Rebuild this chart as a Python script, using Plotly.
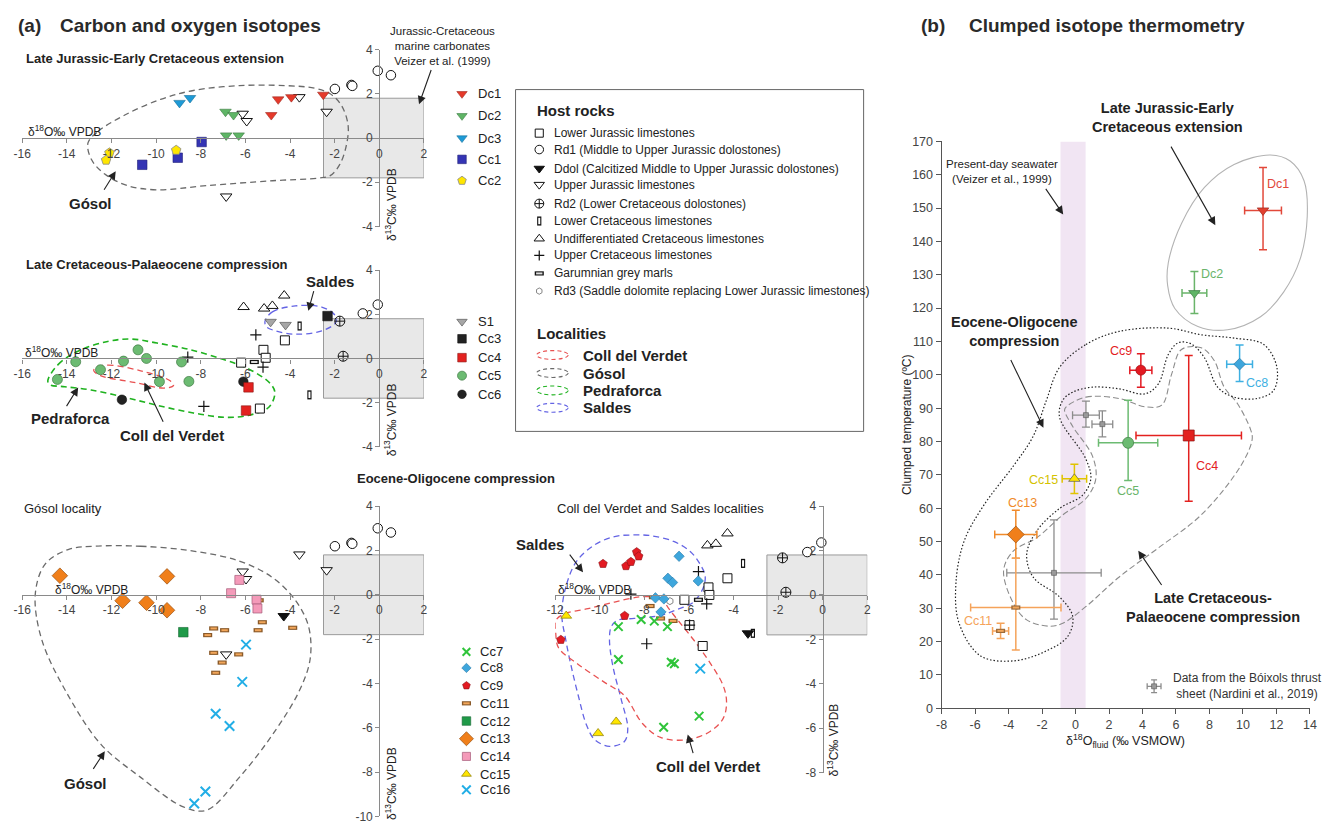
import plotly.graph_objects as go

W, H = 1333, 828
FONT = "Liberation Sans, Arial, Helvetica, sans-serif"
TXT = "#222222"
AX = "#8a8a8a"

# ================= DATA =================
# --- (a) Late Jurassic-Early Cretaceous extension ---
p1_dc1_x = [-4.53, -3.94, -4.84, -2.51]
p1_dc1_y = [1.75, 1.85, 1.04, 1.96]
p1_dc2_x = [-6.89, -6.53, -6.86, -6.30]
p1_dc2_y = [1.19, 1.04, 0.12, 0.12]
p1_dc3_x = [-8.95, -8.48]
p1_dc3_y = [1.59, 1.81]
p1_cc1_x = [-7.96, -9.03, -10.62]
p1_cc1_y = [-0.18, -0.89, -1.21]
p1_cc2_x = [-9.10, -12.09, -12.24]
p1_cc2_y = [-0.55, -0.67, -1.00]
p1_ujl_x = [-3.58, -2.36, -6.12, -5.94, -6.86]
p1_ujl_y = [1.85, 1.19, 1.10, 0.77, -2.64]
p1_rd1_x = [-1.99, -1.25, -1.21, -0.07, 0.52]
p1_rd1_y = [2.22, 2.40, 2.36, 3.04, 2.84]
p1_gosol_x = [-13.05, -12.6, -11.4, -9.8, -8.33, -6.27, -4.2, -2.88, -2.2, -1.7, -1.4, -1.47, -1.77,
              -2.2, -2.73, -4.79, -7.74, -9.96, -11.28, -12.3, -12.9]
p1_gosol_y = [-0.22, 0.30, 1.04, 1.75, 2.15, 2.37, 2.37, 2.25, 2.0, 1.48, 0.59, -0.3, -1.19,
              -1.7, -1.81, -1.93, -2.15, -2.34, -2.15, -1.63, -0.96]

# --- (a) Late Cretaceous-Palaeocene compression ---
p2_s1_x = [-4.87, -4.20]
p2_s1_y = [1.66, 1.52]
p2_cc3_x = [-2.32]
p2_cc3_y = [1.92]
p2_cc4_x = [-5.86, -5.97]
p2_cc4_y = [-1.31, -2.36]
p2_cc5_x = [-14.42, -13.60, -12.49, -11.46, -10.81, -10.43, -9.85, -8.86, -8.53]
p2_cc5_y = [-0.95, -0.15, -0.51, -0.12, 0.39, 0.00, -1.05, -0.16, -1.04]
p2_cc6_x = [-11.53, -6.09]
p2_cc6_y = [-1.87, -1.05]
p2_ucret_x = [-6.08, -5.16, -4.79, -4.26]
p2_ucret_y = [2.33, 2.26, 2.38, 2.85]
p2_lcl_x = [-3.57, -3.13]
p2_lcl_y = [1.47, -1.65]
p2_rd2_x = [-1.77, -1.62]
p2_rd2_y = [1.69, 0.10]
p2_rd1_x = [-0.74, -0.07]
p2_rd1_y = [2.04, 2.44]
p2_ljl_x = [-4.23, -5.19, -5.09, -6.19, -5.35]
p2_ljl_y = [0.82, 0.39, 0.03, -0.19, -2.27]
p2_ucl_x = [-5.53, -8.58, -5.21, -7.86]
p2_ucl_y = [1.07, 0.06, -0.39, -2.17]
p2_gm_x = [-5.60]
p2_gm_y = [-0.16]
p2_ped_x = [-14.85, -14.38, -13.50, -12.17, -11.14, -9.96, -8.48, -7.01, -5.97, -4.94, -4.68, -4.94,
            -5.83, -6.86, -8.33, -9.96, -11.43, -12.91, -14.09, -14.75]
p2_ped_y = [-1.01, -0.27, 0.33, 0.77, 0.88, 0.70, 0.40, -0.04, -0.42, -1.08, -1.53, -2.20,
            -2.57, -2.67, -2.47, -2.12, -1.75, -1.43, -1.28, -1.19]
p2_sal_x = [-5.12, -4.79, -3.76, -2.58, -1.99, -1.95, -2.58, -3.76, -4.65, -5.06]
p2_sal_y = [1.69, 2.11, 2.38, 2.33, 1.96, 1.63, 1.25, 1.10, 1.25, 1.44]
p2_cdv_x = [-12.73, -12.17, -10.69, -9.37, -9.22, -9.66, -10.99, -12.46, -12.79]
p2_cdv_y = [-0.42, -0.30, -0.56, -1.01, -1.23, -1.34, -1.08, -0.79, -0.56]

# --- (a) Eocene-Oligocene: Gósol locality ---
p3_rd1_x = [-1.99, -1.25, -1.21, -0.07, 0.52]
p3_rd1_y = [2.19, 2.34, 2.30, 3.00, 2.81]
p3_ujl_x = [-3.58, -2.36, -6.12, -5.97, -6.86]
p3_ujl_y = [1.82, 1.11, 1.05, 0.71, -2.69]
p3_ddol_x = [-4.28]
p3_ddol_y = [-0.96]
p3_cc11_x = [-5.38, -5.24, -5.43, -3.88, -7.42, -6.93, -7.69, -7.42, -6.30, -7.04, -7.33]
p3_cc11_y = [-0.25, -1.24, -1.60, -1.49, -1.52, -1.60, -1.82, -2.62, -2.69, -3.06, -3.52]
p3_cc12_x = [-8.78]
p3_cc12_y = [-1.69]
p3_cc13_x = [-14.31, -9.51, -11.50, -10.43, -9.51]
p3_cc13_y = [0.86, 0.83, -0.27, -0.36, -0.70]
p3_cc14_x = [-6.27, -6.64, -5.50, -5.46]
p3_cc14_y = [0.67, 0.07, -0.22, -0.62]
p3_cc16_x = [-5.97, -6.14, -7.33, -6.71, -7.79, -8.29]
p3_cc16_y = [-2.25, -3.93, -5.37, -5.92, -8.88, -9.42]
p3_gosol_x = [-12.76, -10.69, -8.33, -6.27, -4.79, -3.76, -3.17, -3.10, -3.61, -4.79, -6.27, -7.74,
              -8.78, -10.69, -12.46, -13.94, -15.12, -15.41, -14.97, -13.94]
p3_gosol_y = [2.19, 2.19, 1.97, 1.52, 0.78, -0.25, -1.43, -2.91, -4.39, -6.32, -8.24, -9.72,
              -9.57, -8.24, -6.76, -4.54, -2.03, 0.04, 1.38, 2.04]

# --- (a) Eocene-Oligocene: Coll del Verdet and Saldes ---
p4_ucret_x = [-5.17, -4.79, -4.27]
p4_ucret_y = [2.23, 2.30, 2.77]
p4_rd1_x = [-0.06, -0.69]
p4_rd1_y = [2.36, 1.93]
p4_rd2_x = [-1.80, -1.65]
p4_rd2_y = [1.67, 0.12]
p4_lcl_x = [-3.57, -3.13]
p4_lcl_y = [1.42, -1.73]
p4_ddol_x = [-3.35]
p4_ddol_y = [-1.73]
p4_ljl_x = [-4.27, -5.12, -5.08, -6.20, -5.38, -5.97]
p4_ljl_y = [0.75, 0.34, 0.00, -0.22, -2.30, -1.36]
p4_ucl_x = [-5.57, -8.60, -5.20, -7.89, -5.97]
p4_ucl_y = [1.05, 0.04, -0.40, -2.20, -1.36]
p4_gm_x = [-5.57]
p4_gm_y = [-0.22]
p4_rd3_x = [-6.85]
p4_rd3_y = [-0.28]
p4_cc7_x = [-9.16, -8.14, -7.55, -6.96, -9.16, -6.79, -6.65, -5.54, -7.13]
p4_cc7_y = [-1.43, -1.11, -1.18, -1.43, -2.91, -3.03, -3.10, -5.46, -5.96]
p4_cc8_x = [-6.44, -6.94, -6.73, -5.58, -7.50, -7.12, -7.25]
p4_cc8_y = [1.74, 0.75, 0.56, 0.63, -0.13, -0.18, -0.77]
p4_cc9_x = [-9.85, -8.82, -8.60, -8.34, -8.25, -8.88, -11.74]
p4_cc9_y = [1.40, 1.30, 1.49, 1.93, 1.74, -0.94, -2.02]
p4_cc11_x = [-7.59, -7.74, -7.27, -6.71]
p4_cc11_y = [-0.10, -0.50, -1.06, -1.17]
p4_cc15_x = [-11.50, -9.26, -10.07]
p4_cc15_y = [-0.94, -5.71, -6.23]
p4_cc16_x = [-5.49]
p4_cc16_y = [-3.32]
p4_sal_x = [-11.70, -11.48, -11.03, -10.22, -9.33, -8.52, -7.71, -6.68, -5.94, -5.49, -5.27, -5.35,
            -5.79, -6.53, -7.27, -8.45, -9.19, -9.48, -9.56, -9.41, -9.04, -8.74, -8.89, -9.56,
            -10.22, -10.59, -10.96, -11.28, -11.52]
p4_sal_y = [-0.84, 0.49, 1.52, 2.26, 2.63, 2.70, 2.67, 2.41, 1.96, 1.37, 0.86, 0.34,
            -0.32, -0.66, -0.92, -1.06, -1.14, -1.43, -2.02, -3.20, -4.68, -6.01, -6.60, -6.82,
            -6.52, -5.86, -4.53, -3.20, -2.02]
p4_cdv_x = [-7.78, -7.27, -6.90, -6.38, -5.79, -5.05, -4.46, -4.31, -4.46, -5.05, -6.08, -7.27,
            -8.08, -8.89, -9.78, -10.96, -11.84, -11.97, -11.96, -11.55, -10.52, -9.33, -8.30]
p4_cdv_y = [-0.07, -0.10, -0.62, -1.28, -2.02, -3.06, -4.09, -4.83, -5.56, -6.15, -6.52, -6.42,
            -5.79, -4.53, -3.94, -3.13, -2.39, -1.73, -1.14, -0.84, -0.62, -0.32, -0.10]

# Veizer et al. (1999) marine carbonate field and present-day seawater
veizer_d18O = [-2.5, 2.0]
veizer_d13C = [-1.8, 1.8]
seawater_d18O = [-0.9, 0.6]

# --- (b) Clumped isotope thermometry ---
pb_dc1 = dict(x=[11.2], y=[149.3], xe=[1.1], yp=[12.9], ym=[11.8])
pb_dc2 = dict(x=[7.1], y=[124.5], xe=[0.74], yp=[6.5], ym=[6.1])
pb_cc9 = dict(x=[3.9], y=[101.4], xe=[0.66], yp=[4.9], ym=[5.1])
pb_cc8 = dict(x=[9.8], y=[103.2], xe=[0.77], yp=[5.7], ym=[5.2])
pb_cc4 = dict(x=[6.76], y=[81.8], xe=[3.15], yp=[24.0], ym=[19.7])
pb_cc5 = dict(x=[3.14], y=[79.6], xe=[1.77], yp=[12.8], ym=[11.3])
pb_cc15 = dict(x=[-0.07], y=[68.8], xe=[0.73], yp=[4.4], ym=[4.4])
pb_cc13 = dict(x=[-3.57], y=[52.1], xe=[1.26], yp=[7.3], ym=[7.1])
pb_cc11 = dict(x=[-3.57, -4.48], y=[30.2, 23.2], xe=[2.7, 0.48], yp=[14.8, 2.3], ym=[12.7, 2.3])
pb_nard = dict(x=[0.62, 1.60, -1.29], y=[87.9, 85.2, 40.6], xe=[0.8, 0.62, 2.82],
               yp=[4.2, 4.0, 15.9], ym=[3.6, 3.8, 13.9])
pb_ext_x = [11.64, 9.47, 7.70, 6.33, 5.54, 5.50, 5.93, 7.31, 9.08, 11.05, 12.43, 13.41, 13.84, 13.65, 12.82]
pb_ext_y = [165.9, 163.1, 156.2, 145.4, 133.6, 126.8, 119.9, 114.5, 113.5, 117.4, 124.8, 134.6, 147.4, 158.2, 164.1]
pb_eo_x = [-0.96, 0.62, 2.59, 5.54, 7.51, 9.47, 11.24, 12.03, 11.83, 10.85, 9.47, 8.49, 7.70, 6.9, 6.13,
           5.54, 4.95, 4.16, 2.59, 1.01, -0.17, -0.76, -0.96, 0.62, 0.91, 0.42, -0.96, -2.33, -2.92,
           -2.53, -0.96, -0.17, -0.46, -1.74, -3.71, -5.68, -6.96, -7.15, -6.66, -5.48, -3.71, -2.53, -1.74]
pb_eo_y = [102.2, 109.1, 113.0, 114.0, 112.0, 111.0, 109.1, 102.2, 95.3, 92.9, 93.3, 96.3, 105.1, 109.3, 109.6,
           106.1, 97.3, 94.3, 95.8, 96.3, 94.8, 92.4, 87.4, 74.7, 68.8, 63.9, 59.9, 53.1, 46.2,
           39.3, 33.4, 27.5, 21.6, 17.2, 14.2, 15.7, 25.5, 37.3, 50.1, 60.9, 72.7, 81.6, 92.4]
pb_lcp_x = [-0.56, 0.62, 2.59, 4.16, 5.15, 5.74, 6.33, 7.51, 8.29, 8.88, 9.67, 10.46, 10.55, 9.87, 7.51,
            4.95, 2.59, 0.62, -0.76, -1.55, -2.92, -3.71, -4.30, -3.71, -2.33, -0.76, 0.62, 1.21, 1.01,
            -0.17, -0.66]
pb_lcp_y = [90.4, 93.3, 92.9, 90.4, 90.9, 100.2, 107.6, 108.1, 104.2, 96.3, 91.4, 83.5, 80.6, 72.7, 58.0,
            48.1, 39.3, 30.5, 25.5, 24.6, 26.5, 31.4, 41.3, 47.2, 51.1, 58.0, 62.9, 68.8, 75.6,
            84.5, 89.4]

# ================= STYLES =================
S = {
    'ljl': dict(symbol='square', size=9, color='white', lc='#111', lw=1),
    'rd1': dict(symbol='circle', size=9.5, color='white', lc='#111', lw=1),
    'ddol': dict(symbol='triangle-down', size=10, color='#111', lc='#111', lw=1),
    'ujl': dict(symbol='triangle-down', size=10, color='white', lc='#111', lw=1),
    'rd2': dict(symbol='circle-cross-open', size=10, color='#111', lc='#111', lw=1),
    'ucret': dict(symbol='triangle-up', size=10, color='white', lc='#111', lw=1),
    'ucl': dict(symbol='cross-thin-open', size=8, color='#111', lc='#111', lw=1.2),
    'rd3': dict(symbol='hexagon-open', size=7, color='#777', lc='#777', lw=0.9),
    'dc1': dict(symbol='triangle-down', size=10, color='#e5392a', lc='#a02a20', lw=0.6),
    'dc2': dict(symbol='triangle-down', size=10, color='#5fb566', lc='#3a7a40', lw=0.6),
    'dc3': dict(symbol='triangle-down', size=10, color='#1e9ad6', lc='#15709a', lw=0.6),
    'cc1': dict(symbol='square', size=9.5, color='#3434b4', lc='#222277', lw=0.6),
    'cc2': dict(symbol='pentagon', size=10, color='#ffe600', lc='#888', lw=0.8),
    's1': dict(symbol='triangle-down', size=10, color='#a6a6a6', lc='#666', lw=0.8),
    'cc3': dict(symbol='square', size=9.5, color='#222', lc='#111', lw=0.6),
    'cc4': dict(symbol='square', size=9.5, color='#e3211f', lc='#8a1512', lw=0.6),
    'cc5': dict(symbol='circle', size=10, color='#6cbb72', lc='#3f7a44', lw=0.7),
    'cc6': dict(symbol='circle', size=9.5, color='#222', lc='#111', lw=0.6),
    'cc7': dict(symbol='x-thin-open', size=8.5, color='#2fc43a', lc='#2fc43a', lw=2),
    'cc8': dict(symbol='diamond', size=8, color='#3ea6dc', lc='#2a7aa8', lw=0.6),
    'cc9': dict(symbol='pentagon', size=9, color='#e31a22', lc='#8a1015', lw=0.6),
    'cc12': dict(symbol='square', size=9.5, color='#1f9a48', lc='#156632', lw=0.6),
    'cc13': dict(symbol='diamond', size=12, color='#f07f1a', lc='#9a5010', lw=0.7),
    'cc14': dict(symbol='square', size=9, color='#f49ab9', lc='#a55a78', lw=0.7),
    'cc15': dict(symbol='triangle-up', size=9.5, color='#ffe600', lc='#8a7a00', lw=0.7),
    'cc16': dict(symbol='x-thin-open', size=9.5, color='#22aee6', lc='#22aee6', lw=2),
}
BARS = {  # (symbol, size, border, core)
    'lcl': ('line-ns', 6.5, '#111', 'white'),
    'gm': ('line-ew', 6.5, '#111', '#dddddd'),
    'cc11': ('line-ew', 6.5, '#8a5a2a', '#f2a65a'),
}

fig = go.Figure()


def ax(i):
    return '' if i == 1 else str(i)


def draw(kind, xs, ys, i):
    if kind in BARS:
        sym, sz, border, core = BARS[kind]
        for size, col, lw in ((sz, border, 4.2), (sz * 0.7, core, 2.0)):
            fig.add_trace(go.Scatter(x=xs, y=ys, xaxis='x' + ax(i), yaxis='y' + ax(i), mode='markers',
                                     marker=dict(symbol=sym, size=size, color=col, line=dict(color=col, width=lw)),
                                     showlegend=False, hoverinfo='skip', cliponaxis=False))
        return
    st = S[kind]
    fig.add_trace(go.Scatter(x=xs, y=ys, xaxis='x' + ax(i), yaxis='y' + ax(i), mode='markers',
                             marker=dict(symbol=st['symbol'], size=st['size'], color=st['color'],
                                         line=dict(color=st['lc'], width=st['lw'])),
                             showlegend=False, hoverinfo='skip', cliponaxis=False))


def outline(xs, ys, i, color, dash, width=1.3):
    fig.add_trace(go.Scatter(x=list(xs) + [xs[0]], y=list(ys) + [ys[0]], xaxis='x' + ax(i), yaxis='y' + ax(i),
                             mode='lines', line=dict(color=color, dash=dash, width=width, shape='spline', smoothing=1),
                             showlegend=False, hoverinfo='skip'))


RED_O, GREY_O, GREEN_O, BLUE_O = '#e85252', '#6a6a6a', '#1fb21f', '#6464e4'
DASH = '6px,4px'

# ---- outlines (drawn first) ----
outline(p1_gosol_x, p1_gosol_y, 1, GREY_O, DASH)
outline(p2_ped_x, p2_ped_y, 2, GREEN_O, DASH, 1.6)
outline(p2_sal_x, p2_sal_y, 2, BLUE_O, DASH)
outline(p2_cdv_x, p2_cdv_y, 2, RED_O, DASH)
outline(p3_gosol_x, p3_gosol_y, 3, GREY_O, DASH)
outline(p4_sal_x, p4_sal_y, 4, BLUE_O, DASH)
outline(p4_cdv_x, p4_cdv_y, 4, RED_O, DASH)
outline(pb_ext_x, pb_ext_y, 5, '#b3b3b3', 'solid', 1.1)
outline(pb_lcp_x, pb_lcp_y, 5, '#8c8c8c', '6px,3px', 1.1)
outline(pb_eo_x, pb_eo_y, 5, '#222', '1.5px,2px', 1.2)

# ---- panel 1 ----
draw('ujl', p1_ujl_x, p1_ujl_y, 1)
draw('rd1', p1_rd1_x, p1_rd1_y, 1)
draw('dc1', p1_dc1_x, p1_dc1_y, 1)
draw('dc2', p1_dc2_x, p1_dc2_y, 1)
draw('dc3', p1_dc3_x, p1_dc3_y, 1)
draw('cc1', p1_cc1_x, p1_cc1_y, 1)
draw('cc2', p1_cc2_x, p1_cc2_y, 1)

# ---- panel 2 ----
draw('ucret', p2_ucret_x, p2_ucret_y, 2)
draw('lcl', p2_lcl_x, p2_lcl_y, 2)
draw('rd2', p2_rd2_x, p2_rd2_y, 2)
draw('rd1', p2_rd1_x, p2_rd1_y, 2)
draw('ljl', p2_ljl_x, p2_ljl_y, 2)
draw('ucl', p2_ucl_x, p2_ucl_y, 2)
draw('gm', p2_gm_x, p2_gm_y, 2)
draw('s1', p2_s1_x, p2_s1_y, 2)
draw('cc3', p2_cc3_x, p2_cc3_y, 2)
draw('cc5', p2_cc5_x, p2_cc5_y, 2)
draw('cc6', p2_cc6_x, p2_cc6_y, 2)
draw('cc4', p2_cc4_x, p2_cc4_y, 2)

# ---- panel 3 ----
draw('rd1', p3_rd1_x, p3_rd1_y, 3)
draw('ujl', p3_ujl_x, p3_ujl_y, 3)
draw('ddol', p3_ddol_x, p3_ddol_y, 3)
draw('cc11', p3_cc11_x, p3_cc11_y, 3)
draw('cc12', p3_cc12_x, p3_cc12_y, 3)
draw('cc13', p3_cc13_x, p3_cc13_y, 3)
draw('cc14', p3_cc14_x, p3_cc14_y, 3)
draw('cc16', p3_cc16_x, p3_cc16_y, 3)

# ---- panel 4 ----
draw('ucret', p4_ucret_x, p4_ucret_y, 4)
draw('rd1', p4_rd1_x, p4_rd1_y, 4)
draw('rd2', p4_rd2_x, p4_rd2_y, 4)
draw('lcl', p4_lcl_x, p4_lcl_y, 4)
draw('ddol', p4_ddol_x, p4_ddol_y, 4)
draw('ljl', p4_ljl_x, p4_ljl_y, 4)
draw('ucl', p4_ucl_x, p4_ucl_y, 4)
draw('gm', p4_gm_x, p4_gm_y, 4)
draw('rd3', p4_rd3_x, p4_rd3_y, 4)
draw('cc11', p4_cc11_x, p4_cc11_y, 4)
draw('cc8', p4_cc8_x, p4_cc8_y, 4)
draw('cc9', p4_cc9_x, p4_cc9_y, 4)
draw('cc7', p4_cc7_x, p4_cc7_y, 4)
draw('cc15', p4_cc15_x, p4_cc15_y, 4)
draw('cc16', p4_cc16_x, p4_cc16_y, 4)


# ---- panel b ----
def ebar(d, symbol, size, color, lc, ecol, lw=0.7, th=1.5):
    fig.add_trace(go.Scatter(
        x=d['x'], y=d['y'], xaxis='x5', yaxis='y5', mode='markers',
        marker=dict(symbol=symbol, size=size, color=color, line=dict(color=lc, width=lw)),
        error_x=dict(type='data', array=d['xe'], color=ecol, thickness=th, width=4),
        error_y=dict(type='data', array=d['yp'], arrayminus=d['ym'], color=ecol, thickness=th, width=4),
        showlegend=False, hoverinfo='skip', cliponaxis=False))


ebar(pb_nard, 'square', 5, '#9a9a9a', '#555', '#8c8c8c', 0.6, 1.3)
ebar(pb_dc1, 'triangle-down', 10, '#e2402f', '#a02a20', '#e2483a')
ebar(pb_dc2, 'triangle-down', 10, '#5fb566', '#3a7a40', '#6ab46a')
ebar(pb_cc9, 'circle', 10, '#e31a22', '#a01015', '#e31a22')
ebar(pb_cc8, 'diamond', 9, '#3ea6dc', '#2a7aa8', '#3eb0e2')
ebar(pb_cc4, 'square', 11, '#e3211f', '#8a1512', '#e3211f')
ebar(pb_cc5, 'circle', 11, '#6cbb72', '#3f7a44', '#6cbb72')
ebar(pb_cc15, 'triangle-up', 10, '#ffe600', '#555', '#e0c400')
ebar(pb_cc13, 'diamond', 13, '#f07f1a', '#9a5010', '#f08a2a')
ebar(pb_cc11, 'line-ew', 1, 'rgba(0,0,0,0)', 'rgba(0,0,0,0)', '#f5a35a')
for size, col, lw in ((6.5, '#9a6a3a', 4.2), (4.5, '#f2a65a', 2.0)):
    fig.add_trace(go.Scatter(x=pb_cc11['x'], y=pb_cc11['y'], xaxis='x5', yaxis='y5', mode='markers',
                             marker=dict(symbol='line-ew', size=size, color=col, line=dict(color=col, width=lw)),
                             showlegend=False, hoverinfo='skip', cliponaxis=False))

# ================= LAYOUT / AXES =================
layout = dict(width=W, height=H, margin=dict(l=0, r=0, t=0, b=0), paper_bgcolor='white',
              plot_bgcolor='rgba(0,0,0,0)', showlegend=False, font=dict(family=FONT, color=TXT))
TICKF = dict(size=12, color='#444', family=FONT)


def lab(v):
    return str(v)


def free_axes(i, xpx, ypx, xr, yr, xt, yt):
    x0p, x1p = xpx
    ytop, ybot = ypx
    yzero = ytop + (yr[1] - 0) / (yr[1] - yr[0]) * (ybot - ytop)
    xzero = x0p + (0 - xr[0]) / (xr[1] - xr[0]) * (x1p - x0p)
    common = dict(showline=True, linecolor=AX, linewidth=1.3, ticks='outside', ticklen=4, tickcolor=AX,
                  tickwidth=1, showgrid=False, zeroline=False, tickfont=TICKF, fixedrange=True)
    layout['xaxis' + ax(i)] = dict(domain=[x0p / W, x1p / W], range=xr, anchor='free', position=1 - yzero / H,
                                   tickvals=xt, ticktext=[lab(v) for v in xt], **common)
    layout['yaxis' + ax(i)] = dict(domain=[1 - ybot / H, 1 - ytop / H], range=yr, anchor='free',
                                   position=xzero / W, side='left', tickvals=yt,
                                   ticktext=[lab(v) for v in yt], **common)


XT_A = list(range(-16, 3, 2))
free_axes(1, (13.3, 420), (43.3, 223.3), [-16, 2], [-4, 4], XT_A, [-4, -2, 0, 2, 4])
free_axes(2, (13.3, 420), (267.7, 447.3), [-16, 2], [-4, 4], XT_A, [-4, -2, 0, 2, 4])
free_axes(3, (13.3, 420), (507.7, 823.3), [-16, 2], [-10, 4], XT_A, list(range(-10, 5, 2)))
free_axes(4, (552.7, 868.7), (507.7, 778.7), [-12, 2], [-8, 4], list(range(-12, 3, 2)), list(range(-8, 5, 2)))

xb = list(range(-8, 15, 2))
yb = list(range(0, 171, 10))
layout['xaxis5'] = dict(domain=[944 / W, 1316.7 / W], range=[-8, 14], anchor='y5', showline=True, linecolor='#555',
                        linewidth=1.3, ticks='outside', ticklen=5, tickcolor='#555', showgrid=False, zeroline=False,
                        tickvals=xb, ticktext=[lab(v) for v in xb], tickfont=dict(size=12.5, color='#444', family=FONT),
                        fixedrange=True)
layout['yaxis5'] = dict(domain=[1 - 713.3 / H, 1 - 136.7 / H], range=[0, 170], anchor='x5', showline=True,
                        linecolor='#555', linewidth=1.3, ticks='outside', ticklen=5, tickcolor='#555', showgrid=False,
                        zeroline=False, tickvals=yb, ticktext=[lab(v) for v in yb],
                        tickfont=dict(size=12.5, color='#444', family=FONT), fixedrange=True)
# pixel overlay for legends and labels
layout['xaxis6'] = dict(domain=[0, 1], range=[0, W], anchor='y6', visible=False, fixedrange=True)
layout['yaxis6'] = dict(domain=[0, 1], range=[H, 0], anchor='x6', visible=False, fixedrange=True)

shapes = []
for i in (1, 2, 3, 4):
    shapes.append(dict(type='rect', xref='x' + ax(i), yref='y' + ax(i), x0=veizer_d18O[0], x1=veizer_d18O[1],
                       y0=veizer_d13C[0], y1=veizer_d13C[1], fillcolor='#e8e8e8',
                       line=dict(color='#9a9a9a', width=1), layer='below'))
shapes.append(dict(type='rect', xref='x5', yref='y5', x0=seawater_d18O[0], x1=seawater_d18O[1], y0=0, y1=170,
                   fillcolor='#f1e5f3', line=dict(width=0), layer='below'))
# host rocks legend box
shapes.append(dict(type='rect', xref='x6', yref='y6', x0=512.7, x1=865, y0=84, y1=431.7,
                   line=dict(color='#666', width=1), fillcolor='rgba(0,0,0,0)'))
# locality legend ellipses
loc_names = ['Coll del Verdet', 'Gósol', 'Pedraforca', 'Saldes']
loc_cols = [RED_O, GREY_O, GREEN_O, BLUE_O]
loc_rows = [354, 372.3, 390, 407.7]
for yy, col in zip(loc_rows, loc_cols):
    shapes.append(dict(type='circle', xref='x6', yref='y6', x0=534, x1=566, y0=yy - 4.5, y1=yy + 4.5,
                       line=dict(color=col, width=1.1, dash='4px,3px')))
# arrows (tail -> tip) drawn as line shapes with annotation heads below
layout['shapes'] = shapes
fig.update_layout(**layout)

# ================= LEGEND SWATCHES (pixel overlay) =================


def swatch(kind, xp, yp):
    if kind in BARS:
        sym, sz, border, core = BARS[kind]
        for size, col, lw in ((sz, border, 4.2), (sz * 0.7, core, 2.0)):
            fig.add_trace(go.Scatter(x=[xp], y=[yp], xaxis='x6', yaxis='y6', mode='markers',
                                     marker=dict(symbol=sym, size=size, color=col, line=dict(color=col, width=lw)),
                                     showlegend=False, hoverinfo='skip', cliponaxis=False))
        return
    st = S[kind]
    fig.add_trace(go.Scatter(x=[xp], y=[yp], xaxis='x6', yaxis='y6', mode='markers',
                             marker=dict(symbol=st['symbol'], size=st['size'] * 0.9, color=st['color'],
                                         line=dict(color=st['lc'], width=st['lw'])),
                             showlegend=False, hoverinfo='skip', cliponaxis=False))


annos = []


def txt(x, y, s, size=12, bold=False, color=TXT, xanchor='center', angle=0):
    annos.append(dict(x=x, y=y, xref='x6', yref='y6', text=('<b>%s</b>' % s if bold else s), showarrow=False,
                      font=dict(size=size, color=color, family=FONT), xanchor=xanchor, yanchor='middle',
                      textangle=angle, align='center'))


def arrow(x0, y0, x1, y1):
    annos.append(dict(x=x1, y=y1, ax=x0, ay=y0, xref='x6', yref='y6', axref='x6', ayref='y6', text=' ',
                      font=dict(size=1), showarrow=True, arrowhead=2, arrowsize=1.5, arrowwidth=1.1,
                      arrowcolor='#222', standoff=0))


# legend 1
leg1 = [('dc1', 'Dc1'), ('dc2', 'Dc2'), ('dc3', 'Dc3'), ('cc1', 'Cc1'), ('cc2', 'Cc2')]
for (k, n), yy in zip(leg1, [88.3, 110.7, 133.3, 155, 176.7]):
    swatch(k, 458.5, yy)
    txt(472.7, yy, n, 13, xanchor='left')
leg2 = [('s1', 'S1'), ('cc3', 'Cc3'), ('cc4', 'Cc4'), ('cc5', 'Cc5'), ('cc6', 'Cc6')]
for (k, n), yy in zip(leg2, [320, 337.5, 356.7, 375, 394]):
    swatch(k, 458.5, yy)
    txt(472.7, yy, n, 13, xanchor='left')
leg3 = [('cc7', 'Cc7'), ('cc8', 'Cc8'), ('cc9', 'Cc9'), ('cc11', 'Cc11'), ('cc12', 'Cc12'), ('cc13', 'Cc13'),
        ('cc14', 'Cc14'), ('cc15', 'Cc15'), ('cc16', 'Cc16')]
for (k, n), yy in zip(leg3, [656, 672.3, 690.3, 708.3, 726.3, 744.3, 762.3, 780.3, 796.3]):
    swatch(k, 463, yy)
    txt(475, yy, n, 13, xanchor='left')

host = [('ljl', 'Lower Jurassic limestones'), ('rd1', 'Rd1 (Middle to Upper Jurassic dolostones)'),
        ('ddol', 'Ddol (Calcitized Middle to Upper Jurassic dolostones)'), ('ujl', 'Upper Jurassic limestones'),
        ('rd2', 'Rd2 (Lower Cretaceous dolostones)'), ('lcl', 'Lower Cretaceous limestones'),
        ('ucret', 'Undifferentiated Cretaceous limestones'), ('ucl', 'Upper Cretaceous limestones'),
        ('gm', 'Garumnian grey marls'), ('rd3', 'Rd3 (Saddle dolomite replacing Lower Jurassic limestones)')]
host_rows = [128.3, 145, 164.3, 180.7, 200, 217.7, 235.7, 252.7, 271, 289]
for (k, n), yy in zip(host, host_rows):
    swatch(k, 536.7, yy)
    txt(549.3, yy, n, 12, xanchor='left')
txt(532.7, 105.7, 'Host rocks', 15, True, xanchor='left')
txt(532.7, 331.7, 'Localities', 15, True, xanchor='left')
for n, yy in zip(loc_names, loc_rows):
    txt(579.3, yy, n, 15, True, xanchor='left')

# Nardini legend sample
fig.add_trace(go.Scatter(x=[1159], y=[691], xaxis='x6', yaxis='y6', mode='markers',
                         marker=dict(symbol='square', size=5, color='#9a9a9a', line=dict(color='#555', width=0.6)),
                         error_x=dict(type='constant', value=7, color='#8c8c8c', thickness=1.3, width=3),
                         error_y=dict(type='constant', value=6.5, color='#8c8c8c', thickness=1.3, width=3),
                         showlegend=False, hoverinfo='skip', cliponaxis=False))

# ================= TEXT =================
txt(7, 19, '(a)', 19, True, '#2a2a2a', xanchor='left')
txt(50, 19, 'Carbon and oxygen isotopes', 19, True, '#2a2a2a', xanchor='left')
txt(921, 19, '(b)', 19, True, '#2a2a2a', xanchor='left')
txt(970, 19, 'Clumped isotope thermometry', 19, True, '#2a2a2a', xanchor='left')

XLAB = 'δ<sup>18</sup>O‰ VPDB'
YLAB = 'δ<sup>13</sup>C‰ VPDB'
# panel 1
txt(15, 52.5, 'Late Jurassic-Early Cretaceous extension', 13, True, xanchor='left')
txt(17, 126, XLAB, 12, xanchor='left')
txt(386, 201, YLAB, 12, angle=-90)
txt(439, 40, 'Jurassic-Cretaceous<br>marine carbonates<br>Veizer et al. (1999)', 11.5)
arrow(428, 62, 415, 99)
txt(82, 200, 'Gósol', 15, True)
arrow(95, 188, 108, 167)
# panel 2
txt(15, 261.5, 'Late Cretaceous-Palaeocene compression', 13, True, xanchor='left')
txt(14, 351, XLAB, 12, xanchor='left')
txt(386, 420, YLAB, 12, angle=-90)
txt(325, 279, 'Saldes', 15, True)
arrow(309, 287, 303, 309)
txt(62, 419, 'Pedraforca', 15, True)
arrow(57, 408, 70, 387)
txt(165, 436, 'Coll del Verdet', 15, True)
arrow(157, 424, 137, 382)
# eocene
txt(452, 480, 'Eocene-Oligocene compression', 13, True)
txt(13, 510, 'Gósol locality', 13, xanchor='left')
txt(45, 592, XLAB, 12, xanchor='left')
txt(386, 790, YLAB, 12, angle=-90)
txt(77, 790, 'Gósol', 15, True)
arrow(84, 777, 97, 757)
txt(659, 510, 'Coll del Verdet and Saldes localities', 13)
txt(553.3, 592, XLAB, 12, xanchor='left')
txt(834, 745, YLAB, 12, angle=-90)
txt(537, 547, 'Saldes', 15, True)
arrow(566, 555, 581, 575)
txt(707, 773, 'Coll del Verdet', 15, True)
arrow(693, 761, 687, 740)
# panel b
txt(909, 425, 'Clumped temperature (ºC)', 12, angle=-90)
txt(1130, 747, 'δ<sup>18</sup>O<sub>fluid</sub> (‰ VSMOW)', 12.5)
txt(1005, 167, 'Present-day seawater<br>(Veizer et al., 1999)', 11.5)
arrow(1048, 183, 1067, 211)
txt(1173, 112, 'Late Jurassic-Early<br>Cretaceous extension', 14.5, True)
arrow(1175, 140, 1221, 222)
txt(1018, 330, 'Eocene-Oligocene<br>compression', 14.5, True)
arrow(1013, 357, 1047, 428)
txt(1219, 611, 'Late Cretaceous-<br>Palaeocene compression', 14.5, True)
arrow(1168, 590, 1143, 553)
txt(1176, 691, 'Data from the Bóixols thrust<br>sheet (Nardini et al., 2019)', 12, color='#333', xanchor='left')
for s, xx, yy, col in [('Dc1', 1284, 180, '#e2483a'), ('Dc2', 1218, 272, '#6ab46a'), ('Cc9', 1125, 350, '#e31a22'),
                       ('Cc8', 1263, 382, '#3eb0e2'), ('Cc4', 1213, 467, '#e3211f'), ('Cc5', 1133, 492, '#6ab46a'),
                       ('Cc15', 1047, 481, '#d4c200'), ('Cc13', 1026, 505, '#f08a2a'),
                       ('Cc11', 981, 625, '#f5a35a')]:
    txt(xx, yy, s, 12.5, color=col)

fig.update_layout(annotations=annos)
fig.write_html("out.html")
